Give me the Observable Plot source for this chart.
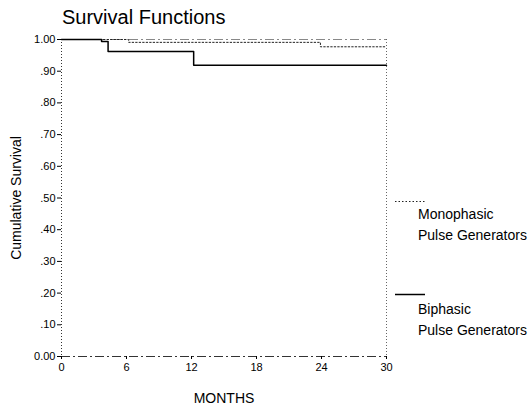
<!DOCTYPE html>
<html><head><meta charset="utf-8">
<script src="https://cdn.jsdelivr.net/npm/d3@7"></script>
<script src="https://cdn.jsdelivr.net/npm/@observablehq/plot@0.6"></script>
<style>
body{margin:0;background:#fff;font-family:"Liberation Sans",Arial,sans-serif;color:#000;}
#wrap{position:relative;width:530px;height:408px;overflow:hidden;}
#title{position:absolute;left:62px;top:5px;font-size:20px;line-height:24px;white-space:nowrap;}
.legline{position:absolute;left:395px;}
.legtext{position:absolute;left:418px;font-size:14px;line-height:21px;white-space:nowrap;}
</style></head><body>
<div id="wrap"><div id="title">Survival Functions</div><div id="chart"></div></div>
<script>
// Data
const monoTime = [0, 6.2, 23.9, 30];
const monoSurv = [1, 0.991, 0.977, 0.977];
const biTime = [0, 3.7, 4.3, 12.2, 30];
const biSurv = [1, 0.994, 0.962, 0.919, 0.919];
const xTicks = [0, 6, 12, 18, 24, 30];
const yTicks = [0, 0.1, 0.2, 0.3, 0.4, 0.5, 0.6, 0.7, 0.8, 0.9, 1];
const yTickLabels = ["0.00", ".10", ".20", ".30", ".40", ".50", ".60", ".70", ".80", ".90", "1.00"];
const seriesNames = [["Monophasic", "Pulse Generators"], ["Biphasic", "Pulse Generators"]];
const titleText = "Survival Functions";
const yLabel = "Cumulative Survival";
const xLabel = "MONTHS";

const mono = monoTime.map((t, i) => ({t, s: monoSurv[i]}));
const bi = biTime.map((t, i) => ({t, s: biSurv[i]}));

document.getElementById("title").textContent = titleText;

const chart = Plot.plot({
  width: 530, height: 408,
  marginTop: 39, marginBottom: 52, marginLeft: 61, marginRight: 144,
  style: {fontFamily: "'Liberation Sans', Arial, sans-serif", fontSize: "11px", color: "#000", background: "transparent"},
  x: {domain: [0, 30]},
  y: {domain: [0, 1]},
  marks: [
    Plot.ruleX([0], {stroke: "#333", strokeDasharray: "1,2"}),
    Plot.ruleX([30], {stroke: "#666", strokeDasharray: "1,2"}),
    Plot.ruleY([0], {stroke: "#333", strokeDasharray: "9,3,2,3"}),
    Plot.ruleY([1], {stroke: "#888", strokeDasharray: "9,3,2,3"}),
    Plot.axisY({ticks: yTicks, tickFormat: d => yTickLabels[Math.round(d * 10)], tickSize: 4, tickPadding: 2,
      label: yLabel, labelAnchor: "center", labelArrow: "none", labelOffset: 50}),
    Plot.axisX({ticks: xTicks, tickSize: 3, tickPadding: 4,
      label: xLabel, labelAnchor: "center", labelArrow: "none", labelOffset: 46}),
    Plot.line(mono, {x: "t", y: "s", curve: "step-after", stroke: "#222", strokeDasharray: "1.5,2", strokeWidth: 1}),
    Plot.line(bi, {x: "t", y: "s", curve: "step-after", stroke: "#000", strokeWidth: 1.5})
  ]
});
document.getElementById("chart").appendChild(chart);
chart.querySelectorAll('[aria-label="y-axis label"] text, [aria-label="x-axis label"] text').forEach(t => t.setAttribute("font-size", "14px"));

// Legend
const wrap = document.getElementById("wrap");
const legendStyles = [
  {lineTop: 200, textTop: 204, dash: "1.5,2", width: 1, color: "#222"},
  {lineTop: 293, textTop: 299, dash: null, width: 1.5, color: "#000"}
];
seriesNames.forEach((lines, i) => {
  const st = legendStyles[i];
  const svg = d3.create("svg").attr("class", "legline").attr("width", 30).attr("height", 3)
    .style("top", st.lineTop + "px");
  svg.append("line").attr("x1", 0).attr("x2", 30).attr("y1", 1.5).attr("y2", 1.5)
    .attr("stroke", st.color).attr("stroke-width", st.width).attr("stroke-dasharray", st.dash);
  wrap.appendChild(svg.node());
  const div = document.createElement("div");
  div.className = "legtext";
  div.style.top = st.textTop + "px";
  div.innerHTML = lines.join("<br>");
  wrap.appendChild(div);
});
</script>
</body></html>
